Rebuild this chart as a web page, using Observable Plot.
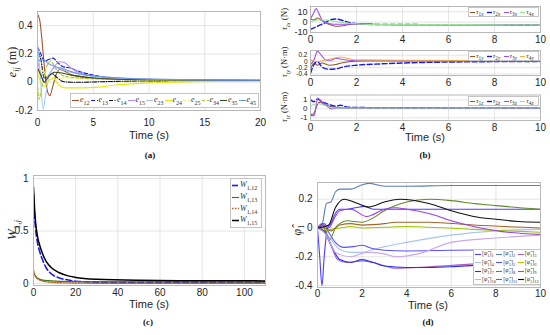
<!DOCTYPE html>
<html><head><meta charset="utf-8">
<script src="https://cdn.jsdelivr.net/npm/d3@7"></script>
<script src="https://cdn.jsdelivr.net/npm/@observablehq/plot@0.6"></script>
<style>
body{margin:0;background:#fff;}
#root{position:relative;width:550px;height:335px;overflow:hidden;font-family:"Liberation Sans",Arial,sans-serif;}
.t{position:absolute;white-space:nowrap;transform:translate(-50%,-50%);color:#262626;}
.time{font-size:11px;}
.cap{font-family:"Liberation Serif",serif;font-weight:bold;font-size:9px;color:#111;}
.ylab{font-family:"Liberation Serif",serif;font-size:11px;transform:translate(-50%,-50%) rotate(-90deg);}
.ylab sub{font-size:0.7em;}
.leg{position:absolute;background:#fff;border:1px solid #c4c4c4;font-family:"Liberation Serif",serif;font-size:7px;color:#333;box-sizing:border-box;}
.leg .it{display:flex;align-items:center;white-space:nowrap;}
.leg sub{font-size:0.75em;}
svg.p{position:absolute;}
</style></head><body><div id="root"></div>
<script>
// ---------- Panel (a): e_ij (m) vs time ----------
const ticksAx = [0, 5, 10, 15, 20];
const ticksAy = [-0.2, 0, 0.2, 0.4];
const e12 = [[0,0.48],[0.2,0.44],[0.4,0.3],[0.6,0.12],[0.8,-0.03],[1.1,-0.095],[1.4,-0.02],[1.7,0.06],[2.0,0.09],[2.5,0.075],[3,0.055],[4,0.04],[5,0.03],[7,0.022],[10,0.017],[15,0.014],[20,0.013]];
const e13 = [[0,0.25],[0.3,0.2],[0.6,0.15],[1.0,0.16],[1.4,0.17],[1.8,0.14],[2.3,0.11],[3,0.1],[3.6,0.08],[5,0.05],[7,0.03],[10,0.02],[15,0.015],[20,0.013]];
const e14 = [[0,0.22],[0.3,0.16],[0.6,0.03],[0.9,0.04],[1.3,0.06],[1.8,0.03],[2.3,0.005],[3,0.0],[4,0.0],[5,0.002],[7,0.006],[10,0.009],[20,0.012]];
const e15 = [[0,0.15],[0.3,0.06],[0.6,0.0],[1.0,0.05],[1.5,0.11],[2.0,0.145],[2.4,0.14],[3,0.1],[4,0.06],[6,0.035],[10,0.02],[20,0.014]];
const e23 = [[0,0.27],[0.25,0.05],[0.5,-0.19],[0.75,-0.08],[1.1,0.06],[1.6,0.1],[2.2,0.09],[3,0.07],[5,0.04],[10,0.02],[20,0.013]];
const e24 = [[0,0.07],[0.3,0.0],[0.6,-0.03],[1.0,0.01],[1.4,0.03],[1.9,-0.02],[2.5,-0.04],[4,-0.04],[5.5,-0.035],[7,-0.02],[10,-0.005],[14,0.003],[20,0.008]];
const e25 = [[0,0.02],[0.3,0.09],[0.6,0.07],[1,0.03],[1.5,0.02],[2.5,0.03],[4,0.025],[10,0.015],[20,0.012]];
const e34 = [[0,0.0],[0.15,-0.12],[0.35,-0.05],[0.7,0.08],[1.2,0.15],[1.6,0.1],[2.2,0.05],[3,0.035],[5,0.025],[10,0.016],[20,0.012]];
const e35 = [[0,0.1],[0.3,0.05],[0.6,0.0],[1.0,0.04],[1.5,0.07],[2.2,0.065],[3,0.05],[5,0.03],[10,0.017],[20,0.012]];
const e45 = [[0,0.15],[0.5,0.16],[1.0,0.13],[1.6,0.11],[2.3,0.095],[3,0.075],[5,0.045],[10,0.022],[20,0.014]];
const namesA = ["12","13","14","15","23","24","25","34","35","45"];

// ---------- Panel (b): torques vs time ----------
const ticksBx = [0, 2, 4, 6, 8, 10];
const ticksB1y = [-10, 0, 10];
const ticksB2y = [-0.4, -0.2, 0, 0.2];
const ticksB3y = [-1, 0, 1];
const tau1x = [[0,3],[0.15,2],[0.3,4],[0.5,1.5],[0.8,-2],[1.1,-4],[1.4,-3.5],[1.8,-2],[2.3,-1.8],[3,-2.3],[4,-2.5],[10,-2.5]];
const tau2x = [[0,-7],[0.2,-5],[0.4,-3],[0.6,-1],[0.85,2],[1.1,3],[1.4,1.5],[1.8,-1],[2.3,-2],[3,-2.3],[10,-2.5]];
const tau3x = [[0,3],[0.12,8],[0.25,13],[0.35,9],[0.5,2],[0.7,-1],[1,-2],[1.5,-2],[2,-1.5],[3,-2.3],[10,-2.5]];
const tau4x = [[0,0],[0.3,2],[0.7,2],[1.1,0.5],[1.6,-1],[2.2,-2],[3,-2.4],[10,-2.5]];
const tau1y = [[0,-0.25],[0.15,-0.05],[0.3,-0.12],[0.5,-0.05],[0.8,-0.12],[1.1,-0.1],[1.4,-0.04],[1.8,0.0],[2.5,0.02],[4,0.02],[10,0.02]];
const tau2y = [[0,-0.38],[0.15,-0.1],[0.3,0.0],[0.5,-0.18],[0.8,-0.25],[1.1,-0.24],[1.4,-0.18],[2,-0.12],[3,-0.08],[4,-0.05],[6,-0.02],[10,0.0]];
const tau3y = [[0,-0.1],[0.15,0.05],[0.3,0.33],[0.45,0.22],[0.65,0.05],[0.9,0.04],[1.1,0.1],[1.4,0.06],[2,0.02],[10,0.01]];
const tau4y = [[0,0.05],[0.3,0.0],[0.6,0.04],[1.0,0.1],[1.3,0.14],[1.6,0.1],[2.0,0.05],[4,0.04],[10,0.03]];
const tau1z = [[0,-0.8],[0.15,-0.5],[0.3,0.5],[0.42,0.75],[0.6,0.5],[1,0.2],[1.5,0.1],[10,0.1]];
const tau2z = [[0,1.0],[0.15,0.8],[0.3,1.1],[0.5,0.8],[0.8,0.5],[1.1,0.3],[1.3,0.4],[1.6,0.2],[2,0.15],[10,0.1]];
const tau3z = [[0,-0.5],[0.15,-0.8],[0.32,1.2],[0.45,0.9],[0.7,0.3],[0.9,0.0],[1.2,0.1],[2,0.1],[10,0.1]];
const tau4z = [[0,0.3],[0.3,0.6],[0.6,0.4],[1,0.1],[10,0.1]];

// ---------- Panel (c): W_1,j vs time ----------
const ticksCx = [0, 20, 40, 60, 80, 100];
const ticksCy = [0, 0.5, 1];
const W112 = [[0,0.85],[0.5,0.65],[1,0.52],[2,0.38],[3,0.3],[4,0.24],[6,0.15],[8,0.1],[12,0.055],[16,0.035],[20,0.022],[30,0.012],[40,0.008],[110,0.008]];
const W113 = [[0,0.1],[2,0.05],[5,0.03],[20,0.018],[110,0.016]];
const W114 = [[0,0.13],[0.5,0.09],[1,0.065],[2,0.045],[4,0.025],[8,0.012],[15,0.006],[30,0.003],[110,0.003]];
const W115 = [[0,0.92],[0.5,0.72],[1,0.58],[2,0.44],[3,0.36],[4,0.3],[6,0.21],[8,0.16],[12,0.105],[16,0.075],[20,0.058],[30,0.04],[50,0.03],[80,0.026],[110,0.025]];

// ---------- Panel (d): phi_hat_1 components vs time ----------
const ticksDx = [0, 2, 4, 6, 8, 10];
const ticksDy = [-0.4, -0.2, 0, 0.2];
const phi1 = [[0,0],[0.1,-0.2],[0.2,-0.4],[0.3,-0.2],[0.45,0.0],[0.6,0.03],[0.8,0.1],[1,0.13],[1.3,0.13],[1.7,0.14],[2.1,0.15],[2.5,0.13],[3,0.13],[4,0.13],[10,0.13]];
const phi2 = [[0,0],[0.2,0.02],[0.4,0.17],[0.6,0.18],[0.8,0.25],[1,0.27],[1.5,0.27],[2,0.3],[2.3,0.31],[3,0.29],[4,0.29],[6,0.295],[10,0.295]];
const phi3 = [[0,0],[0.3,-0.03],[0.6,-0.12],[0.9,-0.22],[1.3,-0.24],[2,-0.23],[2.5,-0.24],[3.5,-0.28],[5,-0.27],[7,-0.25],[10,-0.22]];
const phi4 = [[0,0],[0.3,-0.02],[0.6,-0.08],[1,-0.15],[1.5,-0.17],[2,-0.17],[2.5,-0.15],[3,-0.13],[4,-0.1],[6,-0.05],[8,-0.02],[10,-0.01]];
const phi5 = [[0,0],[0.3,0.02],[0.5,-0.03],[0.8,-0.1],[1.2,-0.135],[1.6,-0.13],[2,-0.12],[2.5,-0.145],[3,-0.155],[4,-0.16],[6,-0.155],[10,-0.15]];
const phi6 = [[0,0],[0.3,-0.02],[0.6,-0.01],[1,0.0],[1.5,0.01],[2,0.0],[3,0.005],[4,0.01],[5,0.005],[7,-0.01],[10,-0.03]];
const phi7 = [[0,0],[0.3,-0.02],[0.7,-0.15],[1,-0.22],[1.5,-0.24],[2,-0.22],[2.5,-0.24],[3,-0.265],[4,-0.275],[5,-0.275],[6,-0.27],[7,-0.26],[8,-0.25],[10,-0.23]];
const phi8 = [[0,0],[0.2,0.03],[0.4,-0.04],[0.55,-0.08],[0.8,0.0],[1,0.03],[1.3,0.05],[2,0.04],[2.5,0.07],[3,0.12],[4,0.18],[5,0.2],[6,0.19],[7,0.17],[8,0.155],[10,0.13]];
const phi9 = [[0,0],[0.3,0.0],[0.6,-0.02],[1,0.02],[1.5,0.03],[2,0.02],[3,0.03],[3.5,0.04],[5,0.04],[7,0.02],[10,0.0]];
const phi10 = [[0,0],[0.4,-0.05],[0.8,-0.17],[1.5,-0.2],[2.2,-0.17],[3,-0.18],[3.5,-0.2],[4.5,-0.18],[6,-0.1],[8,-0.07],[10,-0.05]];
const phi11 = [[0,0],[0.3,0.03],[0.5,0.0],[0.8,0.08],[1,0.12],[1.5,0.13],[2.2,0.08],[3,0.13],[3.5,0.14],[4,0.13],[5,0.1],[6,0.05],[7,0.01],[8,-0.02],[10,-0.045]];
const phi12 = [[0,0],[0.5,0.02],[0.8,0.14],[1.2,0.2],[1.8,0.17],[2.3,0.145],[3,0.18],[3.7,0.2],[5,0.17],[6,0.12],[7,0.08],[8,0.06],[9,0.045],[10,0.04]];

// ---------- styles ----------
const seriesA = [
  {d:e12, c:"#a0522d"}, {d:e13, c:"#1010f0", dash:"4,2"}, {d:e14, c:"#111", dash:"4,1.5,1,1.5"},
  {d:e15, c:"#b48cff"}, {d:e23, c:"#a8c8f0"}, {d:e24, c:"#e8e800"}, {d:e25, c:"#f0f070", dash:"3,2"},
  {d:e34, c:"#a8c840", dash:"3,2"}, {d:e35, c:"#3a4a20"}, {d:e45, c:"#6f98e8"}];
const stylesB = [{c:"#8b5a2b"},{c:"#1a1aee", dash:"5,2.5", w:1.4},{c:"#a04cf0"},{c:"#98e098"}];
const stylesB2 = [{c:"#8b5a2b"},{c:"#1a1aee", dash:"5,2.5", w:1.4},{c:"#a04cf0"},{c:"#f0b040"}];
const seriesC = [{d:W112, c:"#1a1aee", dash:"6,3", w:1.6},{d:W113, c:"#3a7a1a", w:1.2},{d:W114, c:"#b06020", dash:"1.5,1.5", w:1.4},{d:W115, c:"#000", w:1.5}];
const colorsD = ["#4b3cff","#5b7fb8","#b060b0","#a8c4f0","#5a50ff","#a4c400","#2a2aff","#5f8a2a","#a0662a","#c8a8f0","#9b3fe0","#111111"];
const seriesD = [phi1,phi2,phi3,phi4,phi5,phi6,phi7,phi8,phi9,phi10,phi11,phi12].map((d,i)=>({d, c:colorsD[i]}));

const root = document.getElementById("root");
const fmt = d => String(d);

function panel(o){
  const marks = [
    Plot.gridX(o.xt, {stroke:"#dedede", strokeOpacity:1, strokeWidth:0.8}),
    Plot.gridY(o.yt, {stroke:"#dedede", strokeOpacity:1, strokeWidth:0.8}),
    ...o.series.map(s => {
      const opt = {x: d=>d[0], y: d=>d[1], stroke: s.c, strokeWidth: s.w || 1.1, curve: "monotone-x"};
      if (s.dash) opt.strokeDasharray = s.dash;
      return Plot.line(s.d, opt);
    }),
    Plot.axisX(o.xt, {tickSize:0, tickPadding:o.px, tickFormat:fmt, label:null}),
    Plot.axisY(o.yt, {tickSize:0, tickPadding:o.py, tickFormat:fmt, label:null, fontSize:o.yfs || 10}),
    Plot.frame({stroke:"#b8b8b8"})
  ];
  const svg = Plot.plot({
    width:o.width, height:o.height,
    marginLeft:o.ml, marginRight:o.mr, marginTop:o.mt, marginBottom:o.mb,
    x:{domain:o.xd}, y:{domain:o.yd}, clip:true,
    style:{fontFamily:"'Liberation Sans', Arial, sans-serif", fontSize:"10px", color:"#262626", background:"transparent", overflow:"visible"},
    marks
  });
  svg.classList.add("p");
  svg.style.left = o.left + "px"; svg.style.top = o.top + "px";
  root.appendChild(svg);
}

// (a)
panel({left:0, top:0, width:275, height:135, ml:37, mr:15, mt:11, mb:25, xd:[0,20], yd:[-0.2,0.5], xt:ticksAx, yt:ticksAy, series:seriesA, px:8, py:5});
// (b)
const bL = {left:280, width:270, height:45, ml:30, mr:10, xd:[0,10], xt:ticksBx, px:3, py:3};
panel({...bL, top:0, mt:6, mb:13, yd:[-10,15], yt:ticksB1y, yfs:9, series:[tau1x,tau2x,tau3x,tau4x].map((d,i)=>({d,...stylesB[i]}))});
panel({...bL, top:44, mt:6, mb:14, yd:[-0.45,0.35], yt:ticksB2y, yfs:6.5, series:[tau1y,tau2y,tau3y,tau4y].map((d,i)=>({d,...stylesB2[i]}))});
panel({...bL, top:88, mt:6.5, mb:13, yd:[-1.3,1.55], yt:ticksB3y, yfs:8, series:[tau1z,tau2z,tau3z,tau4z].map((d,i)=>({d,...stylesB[i]}))});
// (c)
panel({left:0, top:165, width:280, height:135, ml:33, mr:15, mt:10, mb:15, xd:[0,110], yd:[-0.019,1.029], xt:ticksCx, yt:ticksCy, series:seriesC, px:3, py:5});
// (d)
panel({left:280, top:165, width:270, height:135, ml:37, mr:10, mt:17, mb:13, xd:[0,10], yd:[-0.414,0.316], xt:ticksDx, yt:ticksDy, series:seriesD, px:2.5, py:5});

// ---------- text ----------
function txt(html, x, y, cls, size){
  const el = document.createElement("div");
  el.className = "t " + cls; el.innerHTML = html;
  el.style.left = x + "px"; el.style.top = y + "px";
  if (size) el.style.fontSize = size + "px";
  root.appendChild(el);
}
txt("Time (s)", 149, 135, "time"); txt("Time (s)", 425, 137, "time");
txt("Time (s)", 149, 304, "time"); txt("Time (s)", 428, 305, "time");
txt("(a)", 150, 155, "cap"); txt("(b)", 425, 155, "cap");
txt("(c)", 148, 322, "cap"); txt("(d)", 428, 322, "cap");
txt("<i>e</i><sub><i>ij</i></sub> (m)", 13, 62, "ylab", 12);
txt("<i>τ</i><sub><i>ix</i></sub> (N)", 285, 19, "ylab", 9);
txt("<i>τ</i><sub><i>iy</i></sub> (N·m)", 285, 62, "ylab", 8.5);
txt("<i>τ</i><sub><i>iz</i></sub> (N·m)", 285, 107, "ylab", 8.5);
txt("<i>W</i><sub>1,<i>j</i></sub>", 13, 230, "ylab", 13);
txt("<i>φ̂</i><sub>1</sub>", 298, 230, "ylab", 12);

// ---------- legends ----------
function sample(s, len){
  return `<svg width="${len}" height="5" style="flex:none;margin-right:1px"><line x1="0" y1="2.5" x2="${len}" y2="2.5" stroke="${s.c}" stroke-width="${s.w||1.1}" ${s.dash?`stroke-dasharray="${s.dash}"`:""}/></svg>`;
}
function legend(x, y, w, h, cols, items, fs, len){
  const el = document.createElement("div");
  el.className = "leg";
  Object.assign(el.style, {left:x+"px", top:y+"px", width:w+"px", height:h+"px", fontSize:fs+"px",
    display:"grid", gridTemplateColumns:`repeat(${cols},1fr)`, alignContent:"space-evenly", padding:"0 1px"});
  el.innerHTML = items.map(it => `<div class="it">${sample(it.s, len)}<span>${it.label}</span></div>`).join("");
  root.appendChild(el);
}
legend(70, 93, 189, 15, 10, seriesA.map((s,i)=>({s, label:`<i>e</i><sub>${namesA[i]}</sub>`})), 8, 7);
const sub = ["x","y","z"];
[7, 51, 96].forEach((y,k)=>{
  const st = k===1 ? stylesB2 : stylesB;
  legend(468, y, 71, 10, 4, st.map((s,i)=>({s, label:`<i>τ</i><sub>${i+1}<i>${sub[k]}</i></sub>`})), 7, 5);
});
legend(230, 178, 32, 50, 1, seriesC.map((s,i)=>({s, label:`<i>W</i><sub>1,1${i+2}</sub>`})), 8, 7);
legend(473, 249, 68, 36, 3, seriesD.map((s,i)=>({s, label:`[<i>φ̂</i><sub>1</sub>]<sub>${i+1}</sub>`})), 6, 6);
</script></body></html>
